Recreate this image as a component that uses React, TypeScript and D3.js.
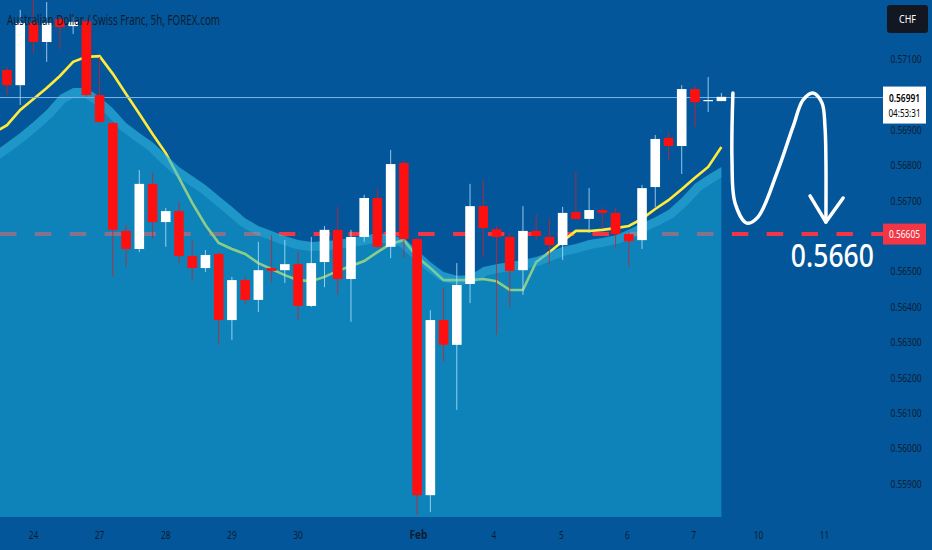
import * as d3 from 'd3';

// AUDCHF 5h candles (bar index 0 = first visible bar)
const opens = [
  0.57069, 0.57026, 0.57202, 0.57148, 0.57213, 0.57193, 0.57207, 0.56998, 0.56919, 0.56614,
  0.56563, 0.56747, 0.56639, 0.5667, 0.56543, 0.56509, 0.56549, 0.56362, 0.56475, 0.56419,
  0.56509, 0.56503, 0.5652, 0.56402, 0.56526, 0.56617, 0.56478, 0.56597, 0.56707, 0.56569,
  0.56806, 0.56591, 0.55867, 0.56362, 0.56292, 0.56464, 0.56684, 0.56619, 0.56597, 0.56503,
  0.56614, 0.56597, 0.56574, 0.56667, 0.56648, 0.56673, 0.56665, 0.56605, 0.56588, 0.56738,
  0.56877, 0.56854, 0.57015, 0.56981, 0.56981,
];
const highs = [
  0.57077, 0.57239, 0.57281, 0.57261, 0.57215, 0.57219, 0.57213, 0.57106, 0.56922, 0.56631,
  0.56786, 0.56778, 0.56679, 0.56696, 0.56588, 0.5656, 0.56554, 0.56484, 0.56484, 0.56583,
  0.56602, 0.56588, 0.56554, 0.56597, 0.56628, 0.56682, 0.56617, 0.56716, 0.56735, 0.56843,
  0.56814, 0.56594, 0.5639, 0.56453, 0.56523, 0.56747, 0.56758, 0.56628, 0.56608, 0.56684,
  0.56662, 0.56648, 0.56682, 0.56781, 0.56735, 0.56682, 0.56679, 0.56611, 0.56744, 0.56885,
  0.56894, 0.57026, 0.57023, 0.57049, 0.57004,
];
const lows = [
  0.56998, 0.5697, 0.57117, 0.57092, 0.57128, 0.57171, 0.56993, 0.56919, 0.56484, 0.56512,
  0.56554, 0.56594, 0.56569, 0.56523, 0.56475, 0.56498, 0.56292, 0.56306, 0.56405, 0.56385,
  0.56467, 0.56467, 0.56362, 0.56399, 0.56455, 0.56433, 0.56357, 0.56583, 0.56566, 0.56537,
  0.56537, 0.55811, 0.55819, 0.56243, 0.56108, 0.5641, 0.5654, 0.5632, 0.56399, 0.56433,
  0.56588, 0.56518, 0.56532, 0.56646, 0.56608, 0.56622, 0.56566, 0.56512, 0.56563, 0.56682,
  0.56814, 0.56775, 0.56908, 0.5695, 0.56981,
];
const closes = [
  0.57026, 0.57202, 0.57148, 0.57202, 0.5719, 0.57205, 0.56998, 0.56922, 0.56617, 0.56563,
  0.56747, 0.56639, 0.5667, 0.56543, 0.56509, 0.56546, 0.56362, 0.56475, 0.56419, 0.56503,
  0.56501, 0.5652, 0.56402, 0.56523, 0.56617, 0.56478, 0.56597, 0.56707, 0.56569, 0.56803,
  0.56591, 0.55867, 0.56362, 0.56292, 0.56461, 0.56684, 0.56622, 0.56597, 0.56501, 0.56614,
  0.566, 0.56574, 0.56665, 0.56648, 0.56673, 0.56665, 0.56605, 0.56585, 0.56735, 0.56874,
  0.56854, 0.57015, 0.56978, 0.56984, 0.56993,
];

// overlays start one bar before the first visible candle
const overlayStart = -1;
const maValues = [
  0.56891, 0.56913, 0.56956, 0.56987, 0.57018, 0.57052, 0.57092, 0.57106, 0.57108, 0.57058,
  0.57001, 0.56945, 0.56888, 0.56834, 0.56764, 0.56693, 0.56631, 0.5658, 0.56563, 0.56549,
  0.56523, 0.56506, 0.56489, 0.56475, 0.56472, 0.56484, 0.56501, 0.56515, 0.56529, 0.56554,
  0.56577, 0.56588, 0.5654, 0.56509, 0.56475, 0.56475, 0.56475, 0.56478, 0.56472, 0.56447,
  0.56447, 0.56526, 0.56554, 0.56585, 0.56614, 0.56614, 0.56617, 0.56622, 0.56628, 0.56648,
  0.56676, 0.56701, 0.56732, 0.56764, 0.56795, 0.56851,
];
const bandTop = [
  0.56837, 0.56863, 0.56891, 0.56922, 0.56956, 0.56998, 0.57018, 0.57018, 0.56993, 0.56961,
  0.56919, 0.56891, 0.56865, 0.56829, 0.56795, 0.56769, 0.56744, 0.56713, 0.56682, 0.5665,
  0.56628, 0.56614, 0.566, 0.56588, 0.56583, 0.56585, 0.56588, 0.56594, 0.566, 0.56608,
  0.56602, 0.56594, 0.5656, 0.56526, 0.56498, 0.56487, 0.56489, 0.56512, 0.5652, 0.56526,
  0.56532, 0.5654, 0.56554, 0.56569, 0.56577, 0.56588, 0.56594, 0.56602, 0.56617, 0.56636,
  0.56653, 0.56673, 0.56707, 0.56747, 0.56772, 0.56795,
];

const priceTicks = [
  0.559, 0.56, 0.561, 0.562, 0.563, 0.564, 0.565, 0.566, 0.567, 0.568, 0.569, 0.57, 0.571,
];
const dayLabels = ['24', '27', '28', '29', '30', 'Feb', '4', '5', '6', '7', '10', '11'];
const dayBars = [2, 7, 12, 17, 22, 31.1, 36.8, 41.9, 46.9, 51.9, 56.8, 61.8];

const lastPrice = 0.56991;
const countdown = '04:53:31';
const targetPrice = 0.56605;
const targetText = '0.5660';

// hand-drawn projection: [bar, price]
const sketchBars = [54.87, 54.8, 55.03, 55.93, 56.76, 58.2, 59.41, 60.17, 60.92, 61.6, 61.83, 61.9, 61.9];
const sketchPrices = [
  0.57004, 0.56814, 0.56693, 0.56636, 0.56653, 0.56778, 0.56908, 0.56984, 0.57004, 0.56976,
  0.56908, 0.56814, 0.56639,
];
const arrowBars = [60.7, 61.9, 63.2];
const arrowPrices = [0.56713, 0.56639, 0.56707];

const W = 932;
const H = 550;
const plotRight = 883;
const plotBottom = 517;
const bg = '#04569a';
const axisText = '#0d1d30';
const red = '#ff1010';

// text squeezed horizontally like the screenshot
function Squeezed({
  x,
  y,
  width,
  scale,
  anchor = 'start',
  children,
  ...rest
}: {
  x: number;
  y: number;
  width: number;
  scale: number;
  anchor?: string;
  children: string;
  [k: string]: any;
}) {
  return (
    <text
      transform={`translate(${x},${y}) scale(${scale},1)`}
      textAnchor={anchor}
      textLength={width / scale}
      lengthAdjust="spacingAndGlyphs"
      {...rest}
    >
      {children}
    </text>
  );
}

export default function App() {
  const x = d3.scaleLinear().domain([0, 54]).range([7, 721.4]);
  const y = d3.scaleLinear().domain([0.559, 0.571]).range([483.5, 59]);
  const bodyW = 9.6;

  const area = d3
    .area<number>()
    .x((_d, i) => x(i + overlayStart))
    .y0(plotBottom)
    .y1((d) => y(d));
  const topLine = d3
    .line<number>()
    .x((_d, i) => x(i + overlayStart))
    .y((d) => y(d));
  const sketch = d3
    .line<number>()
    .x((_d, i) => x(sketchBars[i]))
    .y((d) => y(d))
    .curve(d3.curveCatmullRom.alpha(0.5));
  const arrow = d3
    .line<number>()
    .x((_d, i) => x(arrowBars[i]))
    .y((d) => y(d));

  const font = '"Noto Sans", "Liberation Sans", sans-serif';

  // tick labels hidden behind the price badges
  const badgeY = [y(lastPrice) + 8, y(targetPrice)];
  const visibleTicks = priceTicks.filter((p) => badgeY.every((b) => Math.abs(y(p) - b) > 16));

  return (
    <svg
      width={W}
      height={H}
      style={{ position: 'absolute', left: 0, top: 0, display: 'block' }}
      fontFamily={font}
    >
      <defs>
        <clipPath id="bandClip">
          <path d={area(bandTop) || ''} />
        </clipPath>
        <clipPath id="plotClip">
          <rect x={0} y={0} width={plotRight} height={plotBottom} />
        </clipPath>
      </defs>
      <rect width={W} height={H} fill={bg} />

      <g clipPath="url(#plotClip)">
        {/* target level */}
        <line
          x1={0}
          x2={plotRight}
          y1={y(targetPrice)}
          y2={y(targetPrice)}
          stroke="#f23645"
          strokeWidth={4}
          strokeDasharray="16.5 18.35"
        />
        {/* moving average */}
        <path d={topLine(maValues) || ''} fill="none" stroke="#ffeb3b" strokeWidth={2.6} />
        {/* band area */}
        <path d={area(bandTop) || ''} fill="rgb(22,176,215)" fillOpacity={0.5} />
        <path
          d={topLine(bandTop) || ''}
          fill="none"
          stroke="rgb(70,195,235)"
          strokeOpacity={0.3}
          strokeWidth={18}
          clipPath="url(#bandClip)"
        />
        {/* last price line */}
        <line
          x1={0}
          x2={plotRight}
          y1={y(lastPrice)}
          y2={y(lastPrice)}
          stroke="#7ab6e8"
          strokeWidth={1}
        />
        {/* candles */}
        {opens.map((o, i) => {
          const c = closes[i];
          const up = c >= o;
          const cx = x(i);
          const top = y(Math.max(o, c));
          const bot = y(Math.min(o, c));
          return (
            <g key={i}>
              <line
                x1={cx}
                x2={cx}
                y1={y(highs[i])}
                y2={y(lows[i])}
                stroke={up ? '#b8e2ff' : '#d0202c'}
                strokeOpacity={0.8}
                strokeWidth={1}
              />
              <rect
                x={cx - bodyW / 2}
                y={top}
                width={bodyW}
                height={Math.max(1.2, bot - top)}
                fill={up ? '#ffffff' : red}
              />
            </g>
          );
        })}
        {/* projection sketch */}
        <path
          d={sketch(sketchPrices) || ''}
          fill="none"
          stroke="#ffffff"
          strokeWidth={3.5}
          strokeLinecap="round"
          strokeLinejoin="round"
        />
        <path
          d={arrow(arrowPrices) || ''}
          fill="none"
          stroke="#ffffff"
          strokeWidth={3.5}
          strokeLinecap="round"
          strokeLinejoin="round"
        />
        <Squeezed
          x={x(59.25)}
          y={y(0.56512)}
          width={83}
          scale={0.78}
          fill="#ffffff"
          fontSize={33}
          fontWeight={500}
        >
          {targetText}
        </Squeezed>
      </g>

      {/* title */}
      <text
        x={7}
        y={25}
        fill={axisText}
        fontSize={14}
        textLength={213}
        lengthAdjust="spacingAndGlyphs"
      >
        Australian Dollar / Swiss Franc, 5h, FOREX.com
      </text>

      {/* price axis */}
      {visibleTicks.map((p) => (
        <text
          key={p}
          x={906}
          y={y(p)}
          dy="0.36em"
          textAnchor="middle"
          fill={axisText}
          fontSize={11.5}
          textLength={31}
          lengthAdjust="spacingAndGlyphs"
        >
          {p.toFixed(5)}
        </text>
      ))}

      {/* currency badge */}
      <rect x={887} y={5} width={41} height={28} rx={3} fill="#131722" />
      <text
        x={907.5}
        y={19}
        dy="0.36em"
        textAnchor="middle"
        fill="#ffffff"
        fontSize={11}
        textLength={17}
        lengthAdjust="spacingAndGlyphs"
      >
        CHF
      </text>

      {/* last price badge */}
      <rect x={883} y={y(lastPrice) - 11} width={43} height={37} fill="#ffffff" />
      <Squeezed
        x={904.5}
        y={y(lastPrice) + 4}
        width={31}
        scale={0.75}
        anchor="middle"
        fill="#000000"
        fontSize={11.5}
        fontWeight={600}
      >
        {lastPrice.toFixed(5)}
      </Squeezed>
      <Squeezed
        x={904.5}
        y={y(lastPrice) + 19}
        width={32}
        scale={0.72}
        anchor="middle"
        fill="#000000"
        fontSize={11.5}
      >
        {countdown}
      </Squeezed>

      {/* target badge */}
      <rect x={883} y={y(targetPrice) - 10.5} width={43} height={21} fill="#f23645" />
      <text
        x={904.5}
        y={y(targetPrice)}
        dy="0.36em"
        textAnchor="middle"
        fill="#ffffff"
        fontSize={11.5}
        textLength={31}
        lengthAdjust="spacingAndGlyphs"
      >
        {targetPrice.toFixed(5)}
      </text>

      {/* time axis */}
      {dayLabels.map((d, i) => (
        <text
          key={d}
          x={x(dayBars[i])}
          y={535}
          dy="0.36em"
          textAnchor="middle"
          fill={axisText}
          fontSize={11.5}
          fontWeight={d === 'Feb' ? 700 : 400}
          textLength={d === 'Feb' ? 18 : d.length * 4.8}
          lengthAdjust="spacingAndGlyphs"
        >
          {d}
        </text>
      ))}
    </svg>
  );
}
